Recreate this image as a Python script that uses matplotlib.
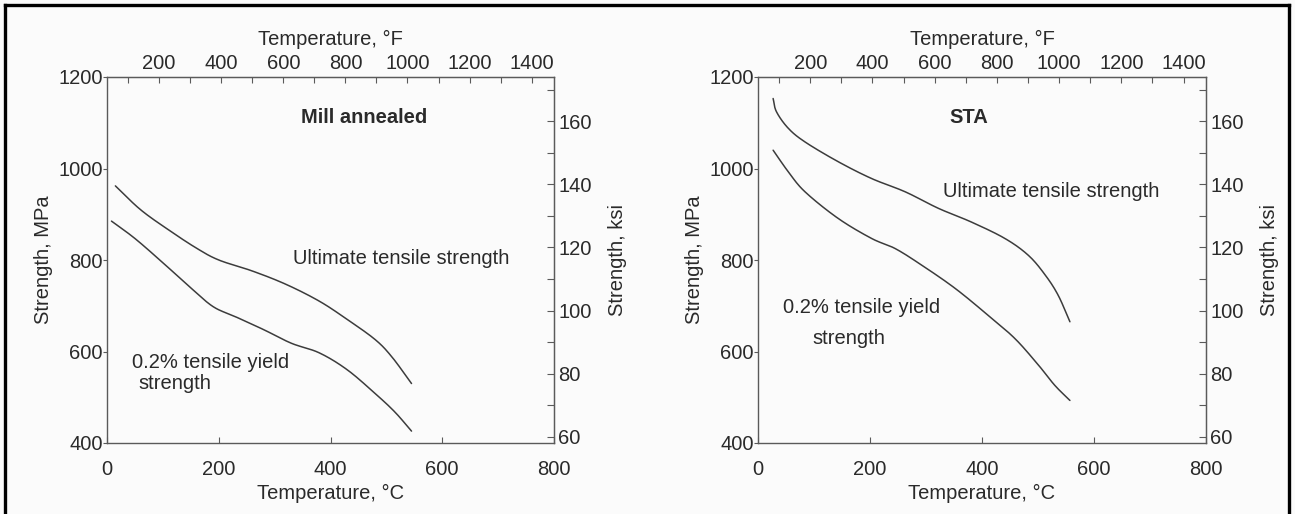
import numpy as np
import matplotlib
matplotlib.use("Agg")
import matplotlib.pyplot as plt
from matplotlib.ticker import MultipleLocator
from matplotlib.lines import Line2D

plt.rcParams["font.family"] = ["Liberation Sans", "DejaVu Sans"]

# Temperature (degC) and strength (MPa) for Ti alloy, two heat-treatment conditions
ma_uts_t = [15, 60, 110, 160, 200, 260, 320, 380, 430, 480, 510, 545]
ma_uts = [962, 910, 866, 826, 800, 776, 747, 710, 670, 626, 588, 530]
ma_ys_t = [8, 50, 100, 150, 190, 230, 280, 330, 380, 430, 480, 515, 545]
ma_ys = [885, 847, 794, 739, 698, 676, 648, 618, 597, 560, 508, 468, 426]

sta_uts_t = [27, 33, 54, 84, 143, 203, 263, 322, 381, 441, 483, 513, 536, 557]
sta_uts = [1153, 1124, 1088, 1058, 1015, 978, 949, 913, 883, 847, 810, 767, 723, 665]
sta_ys_t = [27, 54, 84, 143, 203, 245, 292, 352, 411, 459, 501, 530, 557]
sta_ys = [1040, 993, 949, 891, 847, 825, 789, 738, 679, 628, 570, 526, 493]

panel_titles = ["Mill annealed", "STA"]
uts_label = "Ultimate tensile strength"
ys_label = ["0.2% tensile yield", "strength"]

W, H = 1295, 514
FS = 14.5
INK = "#2a2a2a"
CURVE = "#3c3c3c"
SPINE = "#5a5a5a"


def catmull_rom(x, y, n=16):
    """Smooth polyline through the given points (uniform Catmull-Rom)."""
    p = np.column_stack([x, y]).astype(float)
    p = np.vstack([2 * p[0] - p[1], p, 2 * p[-1] - p[-2]])
    out = []
    t = np.linspace(0, 1, n, endpoint=False)[:, None]
    for i in range(1, len(p) - 2):
        p0, p1, p2, p3 = p[i - 1], p[i], p[i + 1], p[i + 2]
        seg = 0.5 * ((2 * p1) + (-p0 + p2) * t + (2 * p0 - 5 * p1 + 4 * p2 - p3) * t ** 2
                     + (-p0 + 3 * p1 - 3 * p2 + p3) * t ** 3)
        out.append(seg)
    out.append(p[-2][None, :])
    s = np.vstack(out)
    return s[:, 0], s[:, 1]


fig = plt.figure(figsize=(W / 100, H / 100), dpi=100)
fig.patch.set_facecolor("#fbfbfb")

# outer frame of the figure (left, top, right edges)
for xs, ys in [([5 / W, 5 / W], [0, 1 - 5 / H]),
               ([5 / W, 1289 / W], [1 - 5 / H, 1 - 5 / H]),
               ([1289 / W, 1289 / W], [0, 1 - 5 / H])]:
    fig.add_artist(Line2D(xs, ys, transform=fig.transFigure, color="black", lw=2.4))


def px_rect(x0, x1, y0, y1):
    return [x0 / W, 1 - y1 / H, (x1 - x0) / W, (y1 - y0) / H]


panels = [
    dict(rect=px_rect(107, 554, 77, 443), uts=(ma_uts_t, ma_uts), ys=(ma_ys_t, ma_ys),
         title_xy=(460, 1112), uts_xy=(332, 803), ys_xy=[(45, 575), (56, 529)]),
    dict(rect=px_rect(758, 1206, 77, 443), uts=(sta_uts_t, sta_uts), ys=(sta_ys_t, sta_ys),
         title_xy=(377, 1112), uts_xy=(330, 950), ys_xy=[(45, 696), (98, 629)]),
]

for i, p in enumerate(panels):
    ax = fig.add_axes(p["rect"])
    ax.set_facecolor("none")
    ax.set_xlim(0, 800)
    ax.set_ylim(400, 1200)

    for (tx, val) in (p["uts"], p["ys"]):
        sx, sy = catmull_rom(tx, val)
        ax.plot(sx, sy, color=CURVE, lw=1.1, solid_capstyle="round")

    ax.text(*p["title_xy"], panel_titles[i], ha="center", va="center",
            fontsize=FS, fontweight="bold", color=INK)
    ax.text(*p["uts_xy"], uts_label, ha="left", va="center", fontsize=FS, color=INK)
    for (lx, ly), s in zip(p["ys_xy"], ys_label):
        ax.text(lx, ly, s, ha="left", va="center", fontsize=FS, color=INK)

    for sp in ax.spines.values():
        sp.set_color(SPINE)
        sp.set_linewidth(1.0)

    # primary axes: degC along the bottom, MPa on the left
    ax.xaxis.set_major_locator(MultipleLocator(200))
    ax.yaxis.set_major_locator(MultipleLocator(200))
    ax.tick_params(axis="x", direction="in", length=4, width=0.8, color=SPINE,
                   pad=12, labelsize=FS, labelcolor=INK)
    ax.tick_params(axis="y", direction="out", length=3, width=0.8, color=SPINE,
                   pad=0, labelsize=FS, labelcolor=INK)
    ax.set_xlabel("Temperature, \u00b0C", fontsize=FS, color=INK, labelpad=4)
    ax.set_ylabel("Strength, MPa", fontsize=FS, color=INK, labelpad=4)

    # secondary axes: degF along the top, ksi on the right
    top = ax.secondary_xaxis("top", functions=(lambda c: c * 9 / 5 + 32,
                                               lambda f: (f - 32) * 5 / 9))
    top.set_xticks([200, 400, 600, 800, 1000, 1200, 1400])
    top.xaxis.set_minor_locator(MultipleLocator(100))
    top.tick_params(which="both", direction="in", length=4, width=0.8, color=SPINE,
                    pad=3, labelsize=FS, labelcolor=INK)
    top.set_xlabel("Temperature, \u00b0F", fontsize=FS, color=INK, labelpad=6)
    top.spines["top"].set_color(SPINE)

    right = ax.secondary_yaxis("right", functions=(lambda m: m / 6.895,
                                                   lambda k: k * 6.895))
    right.set_yticks([60, 80, 100, 120, 140, 160])
    right.yaxis.set_minor_locator(MultipleLocator(10))
    right.tick_params(which="both", direction="in", length=5, width=0.8, color=SPINE,
                      pad=3, labelsize=FS, labelcolor=INK)
    right.set_ylabel("Strength, ksi", fontsize=FS, color=INK, labelpad=12)
    right.spines["right"].set_color(SPINE)

fig.savefig("out.png", dpi=100, facecolor=fig.get_facecolor())
